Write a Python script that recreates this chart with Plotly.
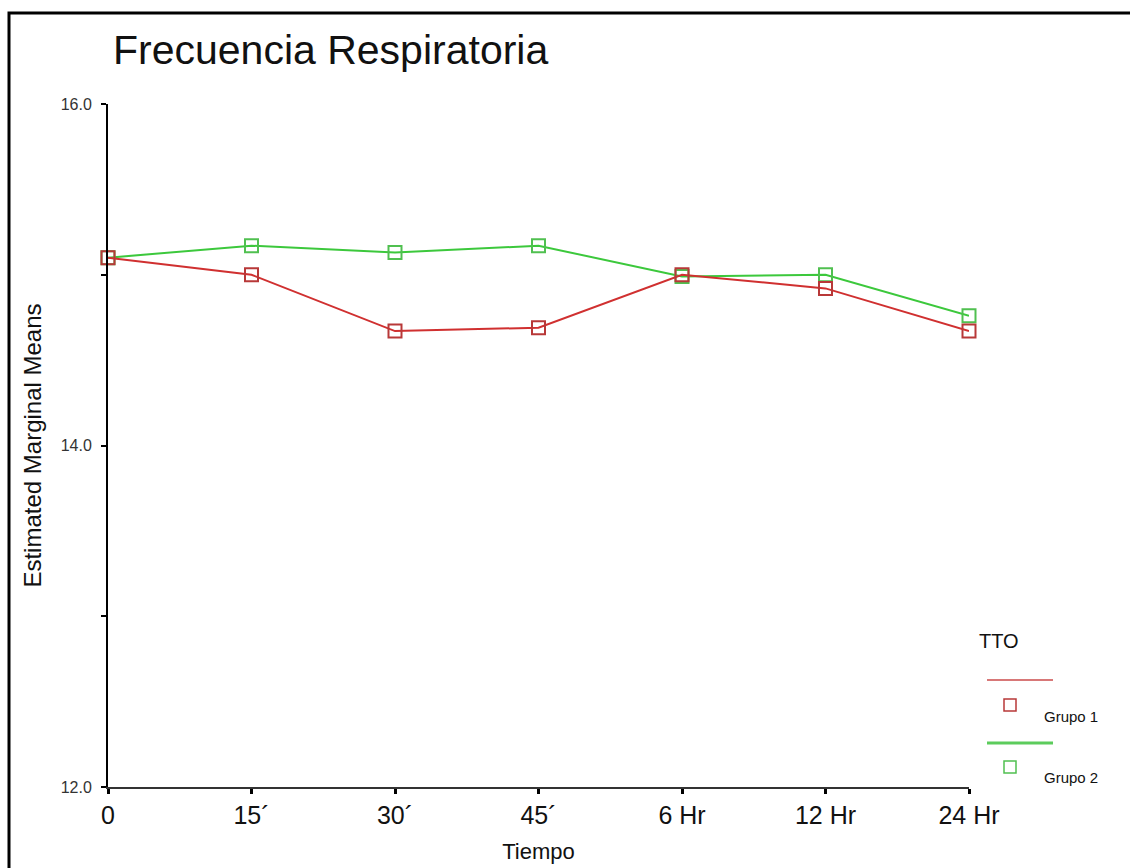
import plotly.graph_objects as go

# ---- data ----
categories = ["0", "15´", "30´", "45´", "6 Hr", "12 Hr", "24 Hr"]
grupo1 = [15.10, 15.00, 14.67, 14.69, 15.00, 14.92, 14.67]
grupo2 = [15.10, 15.17, 15.13, 15.17, 14.99, 15.00, 14.76]
y_tickvals = [12, 13, 14, 15, 16]
y_ticktext = ["12.0", "", "14.0", "", "16.0"]

W, H = 1130, 868
L, R, T, B = 108, 161, 104, 81
PW, PH = W - L - R, H - T - B


def px(x):
    return (x - L) / PW


def py(y):
    return (H - B - y) / PH


FONT = "Liberation Sans, Arial, sans-serif"
RED = "#d03030"
RED_M = "#b83838"
GREEN = "#3cc83c"
GREEN_M = "#50c050"

fig = go.Figure()
fig.add_trace(go.Scatter(
    x=categories, y=grupo2, mode="lines+markers", name="Grupo 2",
    line=dict(color=GREEN, width=2),
    marker=dict(symbol="square-open", size=13, color=GREEN_M, line=dict(width=2)),
    cliponaxis=False,
))
fig.add_trace(go.Scatter(
    x=categories, y=grupo1, mode="lines+markers", name="Grupo 1",
    line=dict(color=RED, width=2),
    marker=dict(symbol="square-open", size=13, color=RED_M, line=dict(width=2)),
    cliponaxis=False,
))

shapes = [
    # outer frame
    dict(type="rect", xref="paper", yref="paper", x0=px(9), y0=py(895), x1=px(1150), y1=py(13),
         line=dict(color="black", width=3), layer="below"),
    # legend: red line + marker
    dict(type="line", xref="paper", yref="paper", x0=px(987), x1=px(1053), y0=py(680), y1=py(680),
         line=dict(color="#d87878", width=2)),
    dict(type="rect", xref="paper", yref="paper", x0=px(1004), x1=px(1016), y0=py(711), y1=py(699),
         line=dict(color=RED_M, width=1.5)),
    # legend: green line + marker
    dict(type="line", xref="paper", yref="paper", x0=px(987), x1=px(1053), y0=py(743), y1=py(743),
         line=dict(color="#5ccc5c", width=3)),
    dict(type="rect", xref="paper", yref="paper", x0=px(1004), x1=px(1016), y0=py(773), y1=py(761),
         line=dict(color=GREEN_M, width=1.5)),
]

annotations = [
    dict(text="Frecuencia Respiratoria", xref="paper", yref="paper", x=px(111), y=py(50),
         xanchor="left", yanchor="middle", showarrow=False,
         font=dict(family=FONT, size=41, color="#111")),
    dict(text="TTO", xref="paper", yref="paper", x=px(977), y=py(641),
         xanchor="left", yanchor="middle", showarrow=False,
         font=dict(family=FONT, size=20, color="#111")),
    dict(text="Grupo 1", xref="paper", yref="paper", x=px(1042), y=py(716),
         xanchor="left", yanchor="middle", showarrow=False,
         font=dict(family=FONT, size=15, color="#111")),
    dict(text="Grupo 2", xref="paper", yref="paper", x=px(1042), y=py(777),
         xanchor="left", yanchor="middle", showarrow=False,
         font=dict(family=FONT, size=15, color="#111")),
]

fig.update_layout(
    width=W, height=H,
    margin=dict(l=L, r=R, t=T, b=B),
    paper_bgcolor="white", plot_bgcolor="white",
    showlegend=False,
    shapes=shapes,
    annotations=annotations,
    font=dict(family=FONT, color="#111"),
    xaxis=dict(
        type="category", range=[0, 6], showgrid=False, zeroline=False, automargin=False,
        showline=True, linecolor="#333", linewidth=2,
        ticks="outside", ticklen=5, tickwidth=3, tickcolor="black",
        tickfont=dict(family=FONT, size=25, color="#111"),
        title=dict(text="Tiempo", font=dict(family=FONT, size=22, color="#111"), standoff=16),
    ),
    yaxis=dict(
        range=[12, 16], showgrid=False, zeroline=False, automargin=False,
        showline=True, linecolor="black", linewidth=2,
        tickvals=y_tickvals, ticktext=y_ticktext,
        ticks="outside", ticklen=5, tickwidth=2, tickcolor="black",
        ticklabelstandoff=6,
        tickfont=dict(family=FONT, size=16, color="#333"),
        title=dict(text="Estimated Marginal Means", font=dict(family=FONT, size=24, color="#111"), standoff=12),
    ),
)

fig.write_html("out.html")
